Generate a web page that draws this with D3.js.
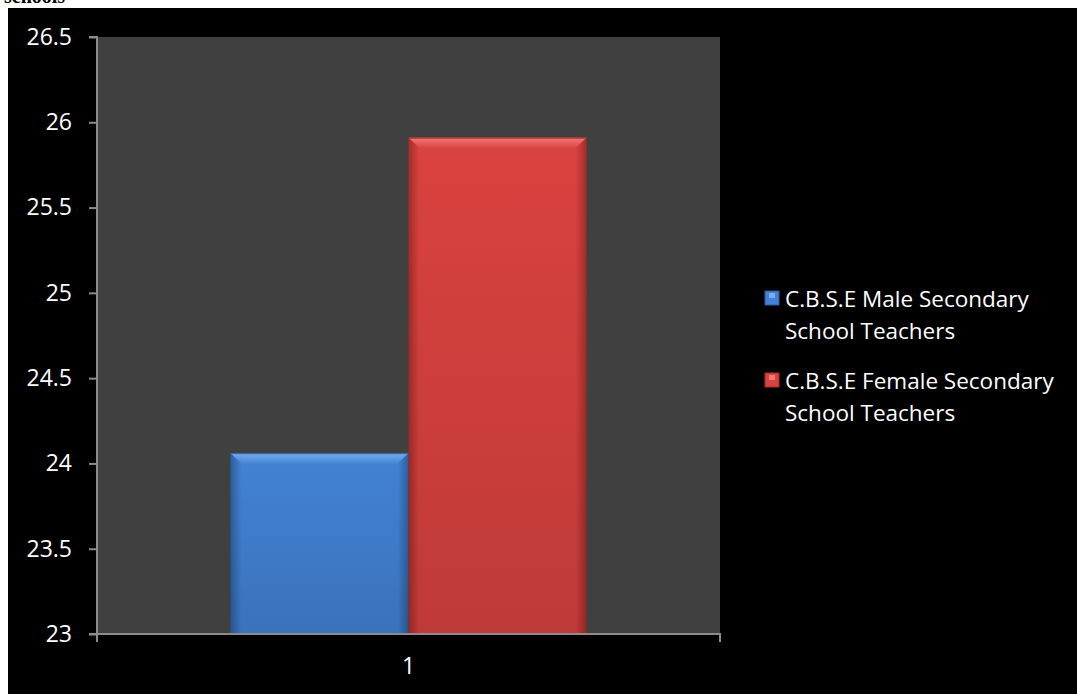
<!DOCTYPE html>
<html>
<head>
<meta charset="utf-8">
<script src="https://cdn.jsdelivr.net/npm/d3@7"></script>
<style>
  body { margin: 0; background: #fff; }
  svg { display: block; }
</style>
</head>
<body>
<div class="chart"></div>
<script>
// Chart data
var categories = ["1"];
var seriesNames = ["C.B.S.E Male Secondary School Teachers", "C.B.S.E Female Secondary School Teachers"];
var seriesValues = [24.06, 25.91];
var yTicks = [23, 23.5, 24, 24.5, 25, 25.5, 26, 26.5];

var svgWidth = 1077;
var svgHeight = 694;

var margin = { top: 37, right: 357, bottom: 60, left: 97 };
var width = 720 - margin.left;
var height = 634 - margin.top;

var font = "'Open Sans', Lato, sans-serif";

var svg = d3.select(".chart")
  .append("svg")
  .attr("width", svgWidth)
  .attr("height", svgHeight);

// gradients for the bevelled bars
var defs = svg.append("defs");
var colors = [
  { main: "#4282d4", light: "#78aef0", dark: "#2c5f9f" },
  { main: "#d9423f", light: "#f07a77", dark: "#a42c2a" }
];
colors.forEach(function (c, i) {
  var g = defs.append("linearGradient").attr("id", "bar" + i)
    .attr("x1", 0).attr("x2", 1).attr("y1", 0).attr("y2", 0);
  g.append("stop").attr("offset", "0%").attr("stop-color", c.dark);
  g.append("stop").attr("offset", "6%").attr("stop-color", c.main);
  g.append("stop").attr("offset", "94%").attr("stop-color", c.main);
  g.append("stop").attr("offset", "100%").attr("stop-color", c.dark);
  var v = defs.append("linearGradient").attr("id", "shade" + i)
    .attr("x1", 0).attr("x2", 0).attr("y1", 0).attr("y2", 1);
  v.append("stop").attr("offset", "0%").attr("stop-color", "#000").attr("stop-opacity", 0);
  v.append("stop").attr("offset", "100%").attr("stop-color", "#000").attr("stop-opacity", 0.12);
  var t = defs.append("linearGradient").attr("id", "top" + i)
    .attr("x1", 0).attr("x2", 0).attr("y1", 0).attr("y2", 1);
  t.append("stop").attr("offset", "0%").attr("stop-color", c.light);
  t.append("stop").attr("offset", "100%").attr("stop-color", c.main);
});

// title remnant at the very top
svg.append("text")
  .attr("x", 4)
  .attr("y", 3)
  .attr("font-family", "Liberation Serif, serif")
  .attr("font-weight", "bold")
  .attr("font-size", "20px")
  .attr("fill", "#000")
  .text("schools");

svg.append("rect")
  .attr("x", 8).attr("y", 8)
  .attr("width", svgWidth - 8).attr("height", svgHeight - 8)
  .attr("fill", "#000");

var chartGroup = svg.append("g")
  .attr("transform", `translate(${margin.left}, ${margin.top})`);

chartGroup.append("rect")
  .attr("width", width).attr("height", height)
  .attr("fill", "#404040");

// Scales
var xBand = d3.scaleBand().domain(categories).range([0, width]).padding(0);
var barW = xBand.bandwidth() / 3.5;
var xInner = d3.scaleBand().domain(d3.range(seriesValues.length))
  .range([barW * 0.75, barW * 0.75 + barW * seriesValues.length]);

var yScale = d3.scaleLinear().domain([23, 26.5]).range([height, 0]);

// Bars
seriesValues.forEach(function (v, i) {
  var x = xBand(categories[0]) + xInner(i);
  var y = yScale(v);
  var h = height - y;
  var w = xInner.bandwidth();
  var c = colors[i];
  chartGroup.append("rect")
    .attr("x", x).attr("y", y).attr("width", w).attr("height", h)
    .attr("fill", "url(#bar" + i + ")");
  chartGroup.append("rect")
    .attr("x", x).attr("y", y).attr("width", w).attr("height", h)
    .attr("fill", "url(#shade" + i + ")");
  // bevel top
  chartGroup.append("path")
    .attr("d", `M${x},${y} L${x + w},${y} L${x + w - 12},${y + 11} L${x + 12},${y + 11} Z`)
    .attr("fill", "url(#top" + i + ")");
  chartGroup.append("line")
    .attr("x1", x).attr("x2", x + w)
    .attr("y1", y + 0.5).attr("y2", y + 0.5)
    .attr("stroke", c.dark).attr("stroke-width", 1);
});

// Axes
var yAxis = d3.axisLeft(yScale).tickValues(yTicks).tickSize(8).tickPadding(17)
  .tickFormat(d3.format("~g"));
var yG = chartGroup.append("g").call(yAxis);
yG.select(".domain").attr("stroke", "#8c8c8c").attr("stroke-width", 2)
  .attr("d", `M-8,0H0V${height}H-8`);
yG.selectAll(".tick line").attr("stroke", "#8c8c8c").attr("stroke-width", 2);
yG.selectAll("text").attr("fill", "#fff")
  .attr("font-family", font).attr("font-size", "23px");

var xAxis = d3.axisBottom(xBand).tickSize(0).tickPadding(24);
var xG = chartGroup.append("g").attr("transform", `translate(0, ${height})`).call(xAxis);
xG.select(".domain").attr("stroke", "#8c8c8c").attr("stroke-width", 2)
  .attr("d", `M0,8V0H${width}V8`);
xG.selectAll("text").attr("fill", "#fff")
  .attr("font-family", font).attr("font-size", "23px");

// Legend
var legendLines = [["C.B.S.E Male Secondary", "School Teachers"], ["C.B.S.E Female Secondary", "School Teachers"]];
var legend = svg.append("g").attr("transform", "translate(765, 291)");
seriesNames.forEach(function (name, i) {
  var g = legend.append("g").attr("transform", `translate(0, ${i * 82})`);
  g.append("rect").attr("width", 14).attr("height", 14)
    .attr("fill", colors[i].main).attr("stroke", colors[i].dark);
  g.append("rect").attr("x", 4).attr("y", 2).attr("width", 6).attr("height", 5)
    .attr("fill", colors[i].light);
  legendLines[i].forEach(function (t, j) {
    g.append("text")
      .attr("x", 20).attr("y", 16 + j * 31.5)
      .attr("fill", "#fff")
      .attr("font-family", font).attr("font-size", "22.5px")
      .text(t);
  });
});
</script>
</body>
</html>
